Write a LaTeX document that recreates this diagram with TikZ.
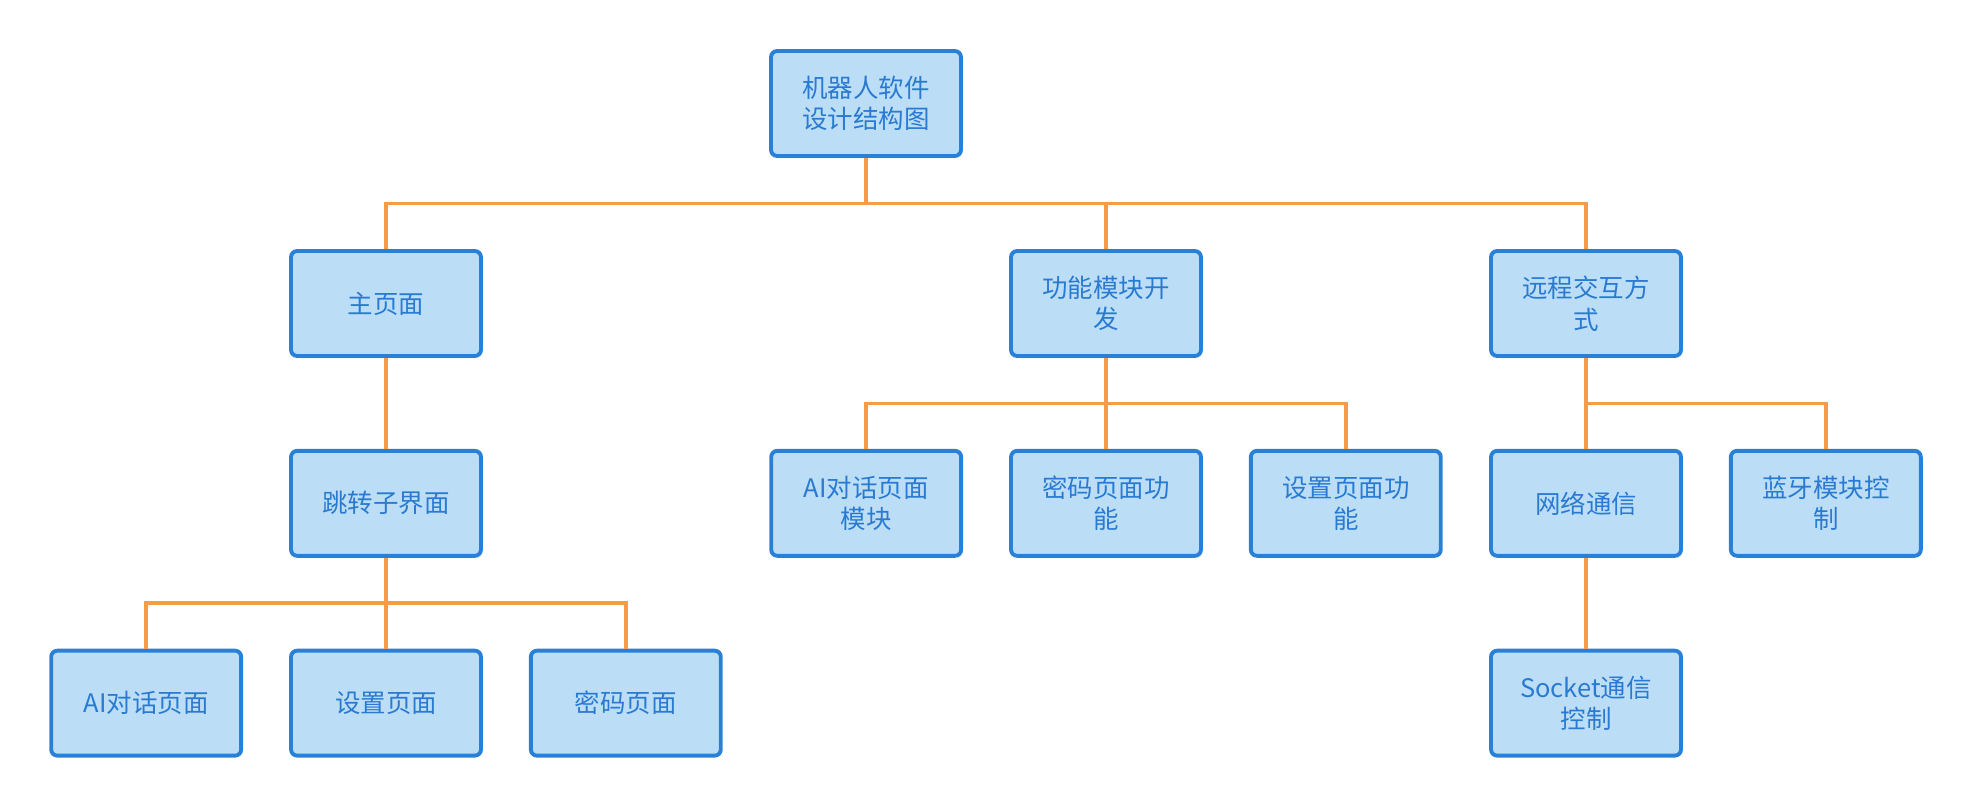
\documentclass[tikz,border=0pt]{standalone}
\usepackage{fontspec}
\usepackage{tikz}
\usetikzlibrary{positioning}
\newfontfamily\cjk{Noto Sans CJK SC}
\definecolor{boxblue}{RGB}{41, 128, 215}
\definecolor{lightblue}{RGB}{187, 222, 246}
\definecolor{textblue}{RGB}{42, 122, 210}
\definecolor{linkorange}{RGB}{247, 155, 72}

\begin{document}
\begin{tikzpicture}[
    x=0.02cm, y=-0.02cm,
    node distance=1.82cm and 0.92cm,
    box/.style={rectangle, draw=boxblue, fill=lightblue, line width=2.2pt,
                rounded corners=3.5pt, minimum width=3.8cm, minimum height=2.1cm,
                align=center, text=textblue, font=\cjk\fontsize{14.5}{18}\selectfont},
    link/.style={draw=linkorange, line width=2pt}
]
\useasboundingbox (0,0) rectangle (1972,808);

% top levels
\node[box] (root) at (866,103.5) {机器人软件\\设计结构图};
\node[box] (main) at (386,303.5) {主页面};
\node[box] (func) at (1106,303.5) {功能模块开\\发};
\node[box] (remote) at (1586,303.5) {远程交互方\\式};

% main page branch
\node[box, below=of main] (jump) {跳转子界面};
\node[box, below=of jump] (pset) {设置页面};
\node[box, left=of pset] (pai) {AI对话页面};
\node[box, right=of pset] (ppwd) {密码页面};

% function branch
\node[box, below=of func] (fpwd) {密码页面功\\能};
\node[box, left=of fpwd] (fai) {AI对话页面\\模块};
\node[box, right=of fpwd] (fset) {设置页面功\\能};

% remote branch
\node[box, below=of remote] (net) {网络通信};
\node[box, right=of net] (bt) {蓝牙模块控\\制};
\node[box, below=of net] (sock) {Socket通信\\控制};

% connectors
\foreach \child in {main, func, remote}
  \draw[link] (root.south) -- ++(0,-0.91cm) -| (\child.north);
\draw[link] (main) -- (jump);
\foreach \child in {pai, pset, ppwd}
  \draw[link] (jump.south) -- ++(0,-0.91cm) -| (\child.north);
\foreach \child in {fai, fpwd, fset}
  \draw[link] (func.south) -- ++(0,-0.91cm) -| (\child.north);
\foreach \child in {net, bt}
  \draw[link] (remote.south) -- ++(0,-0.91cm) -| (\child.north);
\draw[link] (net) -- (sock);

\end{tikzpicture}
\end{document}
